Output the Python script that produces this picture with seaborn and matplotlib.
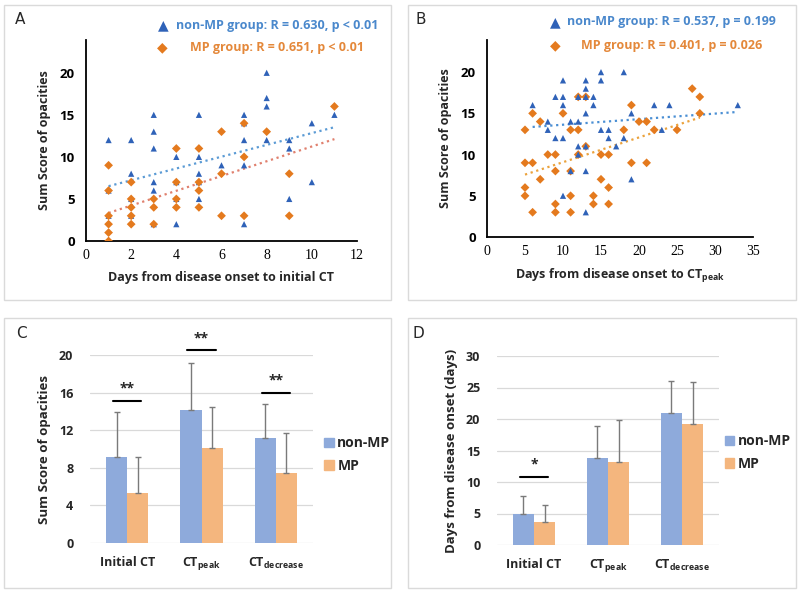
import seaborn as sns
import matplotlib.pyplot as plt
import pandas as pd
import numpy as np
from matplotlib.patches import Rectangle

# ---- Panel A: days to initial CT vs score
a_nonmp_x = [1, 1, 1, 2, 2, 2, 2, 3, 3, 3, 3, 3, 3, 4, 4, 4, 4, 5, 5, 5, 5, 5,
             6, 7, 7, 7, 7, 7, 8, 8, 8, 8, 9, 9, 9, 10, 10, 11]
a_nonmp_y = [12, 6, 3, 12, 8, 5, 3, 15, 13, 11, 7, 6, 2, 10, 7, 5, 2, 15, 10, 8, 7, 5,
             9, 15, 14, 12, 9, 2, 20, 17, 16, 12, 12, 11, 5, 14, 7, 15]
a_mp_x = [1, 1, 1, 1, 1, 1, 2, 2, 2, 2, 2, 3, 3, 3, 4, 4, 4, 4, 5, 5, 5, 5,
          6, 6, 6, 7, 7, 7, 8, 9, 9, 11]
a_mp_y = [9, 6, 3, 2, 1, 0, 7, 5, 4, 3, 2, 5, 4, 2, 11, 7, 5, 4, 11, 7, 6, 4,
          13, 8, 3, 14, 10, 3, 13, 8, 3, 16]

# ---- Panel B: days to CT peak vs score
b_nonmp_x = [6, 8, 8, 9, 9, 10, 10, 10, 10, 10, 11, 11, 12, 12, 12, 12, 13, 13, 13, 13,
             13, 13, 13, 14, 14, 15, 15, 15, 16, 16, 17, 18, 18, 19, 19, 22, 23, 24, 33]
b_nonmp_y = [16, 14, 13, 17, 12, 19, 17, 16, 12, 5, 14, 8, 17, 14, 11, 10, 19, 18, 17, 15,
             11, 8, 3, 17, 16, 20, 19, 13, 13, 12, 11, 20, 12, 15, 7, 16, 13, 16, 16]
b_mp_x = [5, 5, 5, 5, 6, 6, 6, 7, 7, 8, 9, 9, 9, 9, 10, 11, 11, 11, 11, 12, 12, 12, 13, 13,
          14, 14, 15, 15, 16, 16, 16, 18, 19, 19, 20, 21, 21, 22, 25, 27, 28, 28]
b_mp_y = [13, 9, 6, 5, 15, 9, 3, 14, 7, 10, 10, 8, 4, 3, 15, 13, 8, 5, 3, 17, 13, 10, 17, 11,
          5, 4, 10, 7, 10, 6, 4, 13, 16, 9, 14, 14, 9, 13, 13, 18, 17, 15]

# ---- Panels C and D: bar charts (mean, SD)
stages = ["Initial CT", "CT$_{peak}$", "CT$_{decrease}$"]
groups = ["non-MP", "MP"]
c_nonmp_mean = [9.1, 14.1, 11.2]
c_mp_mean = [5.3, 10.1, 7.4]
c_nonmp_sd = [4.8, 5.1, 3.6]
c_mp_sd = [3.9, 4.4, 4.3]
c_sig = ["**", "**", "**"]
c_sig_y = [15.15, 20.5, 16.0]

d_nonmp_mean = [5.0, 13.8, 20.9]
d_mp_mean = [3.7, 13.2, 19.2]
d_nonmp_sd = [2.8, 5.1, 5.2]
d_mp_sd = [2.7, 6.7, 6.6]
d_sig = ["*", "", ""]
d_sig_y = [10.85, None, None]

BLUE_PT = "#2F62B8"
ORANGE_PT = "#E47A1E"
BLUE_BAR = "#8EAADB"
ORANGE_BAR = "#F4B67E"
FONT = "Open Sans"

sns.set_style("white")
plt.rcParams['font.family'] = [FONT, 'DejaVu Sans']
plt.rcParams['mathtext.fontset'] = 'custom'
plt.rcParams['mathtext.rm'] = FONT + ':bold'
plt.rcParams['mathtext.it'] = FONT + ':bold'

W, H = 800, 592
fig = plt.figure(figsize=(8, 5.92), dpi=100)


def fx(px):
    return px / W


def fy(py):
    return 1 - py / H


# panel frames
for (x0, y0, x1, y1) in [(4, 5, 391, 300), (408, 5, 796, 300), (4, 318, 391, 588), (408, 318, 796, 588)]:
    fig.add_artist(Rectangle((fx(x0), fy(y1)), fx(x1 - x0), (y1 - y0) / H,
                             transform=fig.transFigure, fill=False, ec="#DADADA", lw=1))


def scatter_panel(rect, nx, ny, mx, my, blue_on_top, xlim, xticks, xlabel, line_cols):
    ax = fig.add_axes(rect)
    dn = pd.DataFrame({"x": nx, "y": ny, "group": "non-MP"})
    dm = pd.DataFrame({"x": mx, "y": my, "group": "MP"})
    df = pd.concat([dm, dn] if blue_on_top else [dn, dm], ignore_index=True)
    sns.scatterplot(data=df, x="x", y="y", hue="group", style="group",
                    palette={"non-MP": BLUE_PT, "MP": ORANGE_PT},
                    markers={"non-MP": "^", "MP": "D"}, s=20, linewidth=0,
                    legend=False, ax=ax, zorder=3)
    sns.regplot(data=dn, x="x", y="y", scatter=False, ci=None, ax=ax,
                line_kws=dict(ls=":", lw=1.6, color=line_cols[0], zorder=2))
    sns.regplot(data=dm, x="x", y="y", scatter=False, ci=None, ax=ax,
                line_kws=dict(ls=":", lw=1.6, color=line_cols[1], zorder=2))
    ax.set_xlim(*xlim)
    ax.set_ylim(0, 23.9)
    ax.set_xticks(xticks)
    ax.set_yticks([0, 5, 10, 15, 20])
    sns.despine(ax=ax)
    for s in ["left", "bottom"]:
        ax.spines[s].set_color("black")
        ax.spines[s].set_linewidth(1.3)
    ax.tick_params(direction="in", length=4, width=1.2, colors="black")
    ax.tick_params(axis="y", labelsize=9.5, pad=8)
    ax.tick_params(axis="x", labelsize=10, pad=6)
    for t in ax.get_yticklabels():
        t.set_fontweight("bold")
    for t in ax.get_xticklabels():
        t.set_fontfamily("Liberation Serif")
    ax.set_xlabel(xlabel, fontsize=9, fontweight="bold", labelpad=6)
    ax.set_ylabel("Sum Score of opacities", fontsize=9, fontweight="bold", labelpad=6)
    return ax


axA = scatter_panel([fx(86), fy(241), fx(357 - 86), (241 - 40) / H],
                    a_nonmp_x, a_nonmp_y, a_mp_x, a_mp_y, False, (0, 12),
                    range(0, 13, 2), "Days from disease onset to initial CT",
                    ["#5B9BD5", "#E0806E"])
axB = scatter_panel([fx(487), fy(237), fx(753 - 487), (237 - 40) / H],
                    b_nonmp_x, b_nonmp_y, b_mp_x, b_mp_y, True, (0, 35),
                    range(0, 36, 5), "Days from disease onset to CT$_{peak}$",
                    ["#4A8FD4", "#EBA23C"])

# scatter legends (text above the plots)
leg_items = [
    (163, 25, 176, "\u25B2", "non-MP group: R = 0.630, p < 0.01", BLUE_PT, "#4A88CC"),
    (162, 47, 190, "\u25C6", "MP group: R = 0.651, p < 0.01", ORANGE_PT, "#E4883A"),
    (555, 22, 567, "\u25B2", "non-MP group: R = 0.537, p = 0.199", BLUE_PT, "#4A88CC"),
    (555, 45, 581, "\u25C6", "MP group: R = 0.401, p = 0.026", ORANGE_PT, "#E4883A"),
]
for mxp, myp, tx, sym, label, mcol, tcol in leg_items:
    fig.text(fx(mxp), fy(myp), sym, color=mcol, fontsize=10, ha="center", va="center",
             family="DejaVu Sans")
    fig.text(fx(tx), fy(myp), label, color=tcol, fontsize=9, fontweight="bold",
             ha="left", va="center")


def bar_panel(rect, nmean, mmean, nsd, msd, ymax, ystep, ylabel, sig, sig_y, leg_x, leg_y):
    ax = fig.add_axes(rect)
    df = pd.DataFrame({
        "stage": stages * 2,
        "group": [groups[0]] * 3 + [groups[1]] * 3,
        "value": nmean + mmean,
    })
    sns.barplot(data=df, x="stage", y="value", hue="group", order=stages,
                hue_order=groups, palette={"non-MP": BLUE_BAR, "MP": ORANGE_BAR},
                width=0.57, errorbar=None, saturation=1, ax=ax, zorder=2, linewidth=0)
    for cont, means, sds in zip(ax.containers, [nmean, mmean], [nsd, msd]):
        xs = [p.get_x() + p.get_width() / 2 for p in cont.patches]
        ax.errorbar(xs, means, yerr=[np.zeros(len(sds)), sds], fmt="none",
                    ecolor="#7A7A7A", elinewidth=1, capsize=2, capthick=1, zorder=3)
    for i, (s, y) in enumerate(zip(sig, sig_y)):
        if not s:
            continue
        ax.plot([i - 0.19, i + 0.19], [y, y], color="black", lw=1.5, clip_on=False)
        ax.text(i, y + ymax * 0.025, s, ha="center", va="bottom", fontsize=10,
                fontweight="bold", clip_on=False)
    ax.set_xlim(-0.5, 2.5)
    ax.set_ylim(0, ymax)
    ax.set_yticks(np.arange(0, ymax + 0.1, ystep))
    ax.yaxis.grid(True, color="#D9D9D9", lw=0.9)
    ax.set_axisbelow(True)
    sns.despine(ax=ax, left=True, bottom=True)
    ax.tick_params(length=0)
    ax.tick_params(axis="y", labelsize=9, pad=12)
    ax.tick_params(axis="x", labelsize=9, pad=9)
    for t in ax.get_yticklabels() + ax.get_xticklabels():
        t.set_fontweight("bold")
    ax.set_xlabel("")
    ax.set_ylabel(ylabel, fontsize=9.5, fontweight="bold", labelpad=6)
    handles = [Rectangle((0, 0), 1, 1, color=BLUE_BAR), Rectangle((0, 0), 1, 1, color=ORANGE_BAR)]
    ax.legend(handles, groups, loc="center left", bbox_to_anchor=(leg_x, leg_y),
              frameon=False, prop={"weight": "bold", "size": 10},
              handlelength=0.7, handleheight=0.7, handletextpad=0.25,
              labelspacing=0.6, borderaxespad=0, borderpad=0)
    return ax


axC = bar_panel([fx(90), fy(543), fx(223), (543 - 355) / H],
                c_nonmp_mean, c_mp_mean, c_nonmp_sd, c_mp_sd, 20, 4,
                "Sum Score of opacities", c_sig, c_sig_y, 1.05, 0.47)
axD = bar_panel([fx(497), fy(545), fx(222), (545 - 356) / H],
                d_nonmp_mean, d_mp_mean, d_nonmp_sd, d_mp_sd, 30, 5,
                "Days from disease onset (days)", d_sig, d_sig_y, 1.025, 0.49)

for lab, px, py in [("A", 20, 20), ("B", 421, 20), ("C", 21, 334), ("D", 418, 334)]:
    fig.text(fx(px), fy(py), lab, fontsize=11, ha="center", va="center",
             family="DejaVu Sans")

plt.savefig("out.png", dpi=100)
